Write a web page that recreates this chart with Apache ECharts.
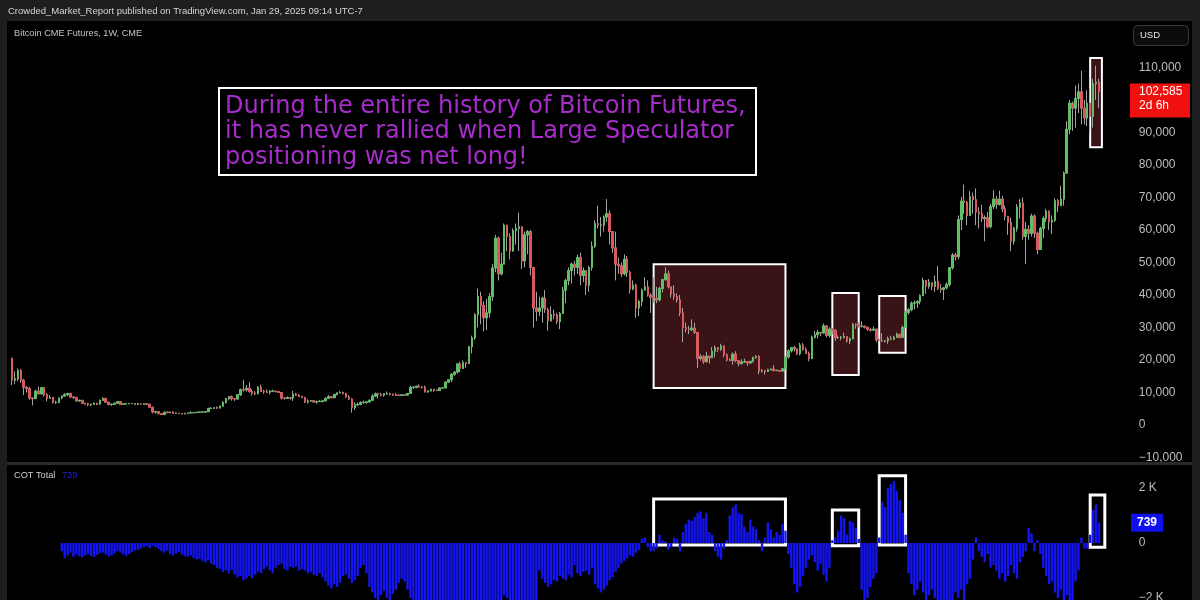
<!DOCTYPE html>
<html>
<head>
<meta charset="utf-8">
<script src="https://cdn.jsdelivr.net/npm/echarts/dist/echarts.min.js"></script>
<style>
html,body{margin:0;padding:0;background:#1e1e1e;}
#c{width:1200px;height:600px;}
</style>
</head>
<body>
<div id="c"></div>
<script>
// ---------- DATA (weekly CME Bitcoin futures, thousands USD) ----------
const firstOpen = 20.5;
const closes = [
 13.8,14.2,
 16.8,13.8,11.6,11.2,8.3,8.1,10.4,9.6,11.5,9.3,8.2,8.4,6.9,7.0,8.3,8.9,9.3,9.7,8.6,8.5,7.4,7.6,6.7,6.5,6.2,6.4,6.7,6.4,7.6,8.2,7.0,6.3,6.4,6.7,7.2,6.3,6.5,6.6,6.6,6.6,6.3,6.5,6.4,6.5,6.4,5.5,4.0,4.1,3.5,3.2,3.9,3.8,
 4.0,3.6,3.6,3.5,3.4,3.6,3.7,3.8,3.8,3.9,4.0,4.0,4.1,5.1,5.1,5.3,5.2,5.8,7.0,8.1,8.7,8.1,8.0,9.3,10.9,10.8,11.3,10.3,9.8,9.6,11.6,10.3,10.2,10.1,10.4,10.4,10.3,10.0,8.3,8.2,8.4,8.3,9.5,9.2,8.8,8.5,7.1,7.4,7.5,7.1,7.2,7.3,
 7.4,8.2,8.7,8.4,9.4,9.9,10.0,9.7,8.6,8.0,5.3,6.2,6.3,6.9,7.0,7.1,7.6,8.9,9.6,9.4,9.2,9.6,9.7,9.5,9.3,9.2,9.1,9.3,9.2,9.7,11.6,11.6,11.9,11.7,11.6,10.2,10.5,11.0,10.7,10.6,11.4,11.4,13.2,13.9,15.6,16.3,18.8,17.4,19.2,18.9,24.1,26.8,
 33.9,39.5,36.8,33.0,34.5,39.5,48.3,57.5,46.5,49.5,61.5,58.0,53.5,59.8,60.5,61.0,50.5,58.5,59.5,48.5,36.0,35.0,36.0,39.0,35.5,32.0,34.0,33.8,31.8,34.3,41.5,44.5,47.5,49.5,48.5,51.5,46.0,47.5,43.0,48.5,55.0,62.0,61.5,61.5,64.0,65.0,59.5,54.5,49.5,49.0,46.5,51.0,
 47.0,41.8,43.0,36.0,38.0,41.5,42.5,40.0,39.3,39.0,38.5,42.0,44.7,46.5,42.5,40.3,39.5,38.5,34.5,30.0,29.5,29.3,29.8,28.5,20.5,21.0,19.5,21.2,20.7,22.7,23.8,23.3,24.3,21.6,20.0,19.9,21.8,19.8,18.9,19.4,19.5,19.1,19.6,20.8,21.1,16.6,16.7,16.5,17.0,17.2,16.8,16.8,
 16.6,17.3,20.9,22.8,23.8,23.4,21.9,24.6,23.2,22.0,20.5,27.0,27.8,28.5,28.3,30.5,27.6,29.5,29.2,26.9,26.9,27.0,27.2,25.9,26.5,31.0,30.8,30.4,30.4,30.1,29.4,29.2,29.5,26.2,26.0,25.9,25.9,26.6,26.4,27.0,27.9,27.0,30.0,34.6,35.5,37.5,37.6,38.0,39.8,44.5,42.7,43.8,42.6,
 44.2,42.0,41.7,42.2,43.2,48.4,52.3,51.8,63.2,68.9,68.5,64.5,70.2,69.3,65.5,65.0,63.5,63.8,61.0,67.2,69.5,67.9,69.5,66.5,64.2,62.3,56.5,60.5,67.0,68.3,58.0,60.2,59.0,64.3,59.0,54.0,60.5,63.6,65.8,62.5,63.0,69.0,67.5,69.5,77.5,91.0,99.0,97.5,100.5,102.5,97.5,94.5,
 99.0,95.0,105.0,105.5,102.6
];
const highs = [
 20.7,16.5,
 17.4,17.2,14.2,12.0,11.8,8.5,10.9,11.8,11.7,11.7,9.9,9.2,8.6,7.5,8.4,9.0,9.8,9.9,9.9,8.9,8.5,7.8,7.7,6.8,6.8,6.5,6.9,6.8,7.8,8.5,8.3,7.2,6.6,6.9,7.3,7.4,6.6,6.8,6.8,6.7,6.7,6.8,6.6,6.6,6.6,6.5,5.5,4.4,4.2,3.6,4.2,4.2,
 4.1,4.2,3.8,3.7,3.5,3.7,3.7,4.2,3.9,4.0,4.0,4.1,4.1,5.3,5.5,5.4,5.7,5.9,7.3,8.4,8.9,9.1,8.2,9.4,11.2,13.9,12.3,13.2,11.0,10.4,12.0,12.4,10.8,10.9,10.7,10.9,10.5,10.4,10.1,8.5,8.8,8.5,10.5,9.9,9.5,9.0,8.5,7.9,7.7,7.5,7.5,7.6,
 7.6,8.5,9.2,8.8,9.6,9.9,10.5,10.3,9.9,9.2,8.2,6.9,6.9,7.3,7.5,7.3,7.8,9.5,10.0,9.9,9.9,9.8,10.3,9.9,9.6,9.8,9.4,9.5,9.4,9.8,12.1,11.9,12.1,12.5,11.9,12.1,10.6,11.1,11.0,10.9,11.5,11.7,13.4,14.0,16.0,16.5,18.9,19.5,19.9,19.4,24.3,27.5,
 34.4,42.0,41.0,38.0,38.8,40.6,49.5,58.5,58.0,53.0,62.0,61.5,59.0,60.5,62.0,65.3,58.0,59.5,60.0,60.0,46.0,41.0,39.5,39.5,41.5,36.0,36.5,35.5,34.5,34.8,42.5,45.0,48.5,50.0,50.5,52.5,53.0,48.5,47.5,49.0,56.5,63.0,67.5,64.0,64.5,69.5,66.0,59.5,59.5,51.5,50.0,52.5,
 52.0,47.5,44.5,43.5,38.5,42.0,45.5,44.5,40.5,45.5,42.5,42.5,45.0,48.5,47.5,42.5,43.0,40.5,40.0,36.0,31.5,30.5,32.5,31.5,27.0,21.8,21.5,22.5,21.0,24.0,24.5,23.6,25.0,24.5,22.0,20.5,22.3,22.7,19.6,20.2,20.4,19.6,19.7,21.0,21.5,21.5,17.2,16.8,17.3,17.4,18.4,17.0,
 16.9,17.4,21.2,23.3,23.9,24.3,23.5,25.3,25.2,23.9,22.6,27.5,28.9,29.2,28.6,31.2,30.6,30.1,29.9,29.3,27.6,27.4,28.4,27.3,26.9,31.4,31.3,31.6,31.9,30.6,30.0,29.9,30.3,29.6,26.9,28.2,26.1,27.2,27.4,27.5,28.5,28.1,30.6,35.3,36.0,38.0,38.3,38.4,40.2,45.3,44.5,44.9,44.0,
 46.0,49.0,43.3,42.3,43.9,48.6,52.9,53.0,64.5,70.2,74.0,68.9,72.0,71.5,72.8,67.0,67.8,64.5,65.5,68.0,72.2,70.5,72.1,70.5,67.5,63.5,63.8,61.0,68.0,69.5,70.0,62.5,61.5,65.0,64.8,59.5,61.0,64.2,66.5,66.0,64.5,69.8,69.5,73.6,78.0,93.5,100.0,99.5,104.5,105.0,109.0,100.0,
 103.0,103.5,106.5,110.5,106.5
];
const lows = [
 12.3,12.5,
 13.5,13.0,9.2,10.0,7.8,6.0,8.0,9.4,9.3,8.7,7.3,8.2,6.6,6.5,6.7,7.9,8.7,8.9,8.4,8.0,7.2,7.1,6.5,6.2,5.8,5.8,6.3,6.1,6.3,7.4,6.9,6.0,5.9,6.2,6.7,6.2,6.2,6.3,6.4,6.5,6.1,6.4,6.4,6.3,6.3,5.3,3.6,3.5,3.3,3.1,3.2,3.6,
 3.7,3.5,3.5,3.5,3.3,3.4,3.5,3.7,3.7,3.7,3.8,3.9,3.9,4.1,4.9,5.0,5.0,5.2,5.7,6.6,7.6,7.5,7.4,7.8,8.9,10.3,10.3,9.9,9.1,9.2,9.6,10.1,9.6,9.9,9.4,10.1,10.0,9.9,7.8,7.8,8.0,7.8,7.4,8.9,8.7,8.4,6.8,6.6,7.1,6.9,6.5,7.1,
 6.9,7.5,8.1,8.2,8.4,9.1,9.7,9.4,8.4,7.7,3.8,4.6,5.8,6.1,6.5,6.5,6.9,7.6,8.6,8.2,8.8,8.7,9.3,9.1,9.0,8.9,8.9,9.1,9.1,9.1,9.8,11.1,11.3,11.5,11.2,10.0,9.9,10.3,10.2,10.4,10.5,11.2,11.4,12.9,13.2,15.1,15.8,16.3,18.1,17.6,19.0,22.0,
 26.2,30.0,31.0,28.8,29.2,33.0,38.2,47.0,44.5,46.0,49.5,53.5,51.0,53.5,55.5,53.5,48.0,48.5,52.5,46.0,30.0,32.0,33.5,31.5,34.5,29.0,32.5,32.5,31.0,29.5,35.0,37.5,43.0,43.5,46.0,46.5,43.0,44.0,40.0,41.0,47.5,54.5,60.5,58.0,59.5,62.5,55.5,53.0,44.5,46.5,45.5,46.0,
 45.5,40.5,41.5,33.0,33.5,36.5,41.5,39.5,34.5,37.5,37.5,38.0,40.8,44.5,42.0,39.2,38.5,37.7,33.5,25.5,28.5,28.0,29.0,28.0,17.5,19.8,18.8,19.2,18.9,20.8,20.8,22.5,22.8,20.8,19.6,19.6,18.6,19.3,18.1,18.6,19.1,18.2,18.9,19.2,20.3,15.6,16.1,15.5,16.3,16.8,16.4,16.5,
 16.3,16.6,17.2,20.4,22.3,22.6,21.5,21.4,22.9,21.8,19.6,20.2,26.6,26.6,27.3,28.1,27.0,26.9,27.9,25.9,26.5,26.1,26.6,25.4,24.9,26.5,29.6,29.9,30.0,29.7,29.0,28.7,29.0,25.5,25.8,25.6,25.4,25.0,26.1,26.1,27.3,26.6,26.9,29.8,34.0,35.0,35.6,36.0,37.1,39.8,40.4,41.9,41.5,
 41.0,41.5,40.7,38.5,41.8,42.6,47.8,50.6,51.0,60.0,65.0,61.5,66.5,65.0,61.5,60.5,62.5,56.5,60.5,60.5,66.5,66.5,67.5,65.5,63.0,58.5,53.5,55.5,59.5,63.5,57.0,49.5,57.0,58.0,57.5,52.5,54.0,57.5,62.5,60.0,58.8,62.5,65.5,67.5,67.5,79.5,89.5,90.5,91.5,96.0,92.5,92.5,
 92.0,90.0,91.5,100.0,97.5
];
// COT Total (contracts), weekly, aligned with candles
const cot = [
 null,null,null,null,null,null,null,null,null,null,null,null,null,null,null,null,null,
 -300,-550,-450,-350,
 -500,-420,-480,-520,-450,-400,-470,-510,-430,-380,
 -350,-420,-500,-460,-380,-300,-350,-420,-480,-400,-330,-280,-250,
 -200,-150,-120,-180,-100,-150,-220,
 -300,-350,-280,-400,-450,-380,-320,-420,-480,-500,-450,-550,-600,-580,
 -650,-700,-620,-750,-800,
 -900,-950,-1050,-1000,-1100,-980,
 -1150,-1250,-1200,-1350,-1300,-1200,-1280,-1150,-1050,-1100,
 -950,-850,-1000,-1100,-900,-800,-750,-950,-1000,-870,
 -900,-850,-1000,-950,
 -1000,-1100,-1050,-1150,-1200,-1100,
 -1250,-1400,-1550,-1650,-1500,-1600,-1450,-1200,
 -1150,-1300,-1450,-1350,-1200,
 -900,-800,-1100,
 -1600,-1800,-2000,-2100,-1900,
 -1750,-2000,-2100,-1850,-1700,
 -1450,-1300,-1400,-1700,-2000,
 -2300,-2500,-2400,-2600,-2800,-2700,-2500,-2300,-2400,-2600,
 -2900,-3000,-2800,-2600,-2500,-2400,-2700,-2800,-2600,-2500,
 -2300,-2200,-2400,-2600,-2700,-2500,-2300,-2200,-2400,-2500,-2300,
 -1900,-2000,
 -2200,-2400,-2600,-2500,-2300,-2200,-2500,-2700,-2400,-2200,
 -1000,
 -1300,-1450,-1600,-1500,-1350,-1400,
 -1200,-1300,-1350,-1150,-1250,-800,
 -1100,-1200,-1050,-1000,-1150,-900,
 -1500,-1650,-1800,-1700,-1550,-1350,
 -1250,-1050,-900,-750,-650,
 -550,-450,-500,-350,
 -250,150,200,-150,-300,
 -300,-200,300,100,50,-250,-150,200,150,-300,
 400,700,850,800,950,1100,1150,900,1100,400,
 300,-300,-500,-600,-200,100,1000,1300,1400,1100,
 1050,600,400,850,600,500,100,-300,200,750,
 500,200,400,300,700,450,
 -400,-900,-1500,-1800,-1600,-1200,-900,-600,-450,-700,-1000,-750,-1150,-1400,-900,
 100,200,450,1000,900,300,800,750,550,150,
 -1700,-2200,-2000,-1600,-1300,-1100,
 200,1500,1300,2000,2150,2250,1900,1550,1100,300,
 -1100,-1500,-1900,-1700,-1400,-1800,-2100,-1900,-1700,-2000,-2200,-2400,-2300,-2100,-2500,-2200,-1800,-2000,-1700,-2100,-1500,
 -1300,-600,200,-300,-500,-700,-400,-900,-800,
 -1000,-1300,-1100,-1400,-1200,-800,
 -1100,-1300,-700,-500,-300,
 550,350,-300,100,
 -400,-900,-1200,-1500,-1400,-1800,-2000,-1700,-2100,-1900,-2300,-2400,
 -1400,-1000,200,-200,
 -200,300,1200,1400,739
];
const lastPrice = 102585;
const countdown = '2d 6h';
const lastCot = 739;
// highlighted ranges: [first week index, last week index, low value, high value]
const priceBoxes = [[219,264,11400,49500],[280,289,15400,40600],[296,305,22200,39700],[368,372,85500,112900]];
const cotBoxes = [[219,264,-70,1600],[280,289,-100,1200],[296,305,-70,2450],[368,373,-150,1750]];

// ---------- categories (weeks) ----------
const totalSlots = 381;
const weeks = [];
const t0 = Date.UTC(2017, 11, 18);
for (let i = 0; i < totalSlots; i++) weeks.push(new Date(t0 + i * 7 * 86400000).toISOString().slice(0, 10));

// ---------- build candles ----------
const ohlc = closes.map((c, i) => {
  const o = i === 0 ? firstOpen : closes[i - 1];
  const h = Math.max(highs[i], o, c), l = Math.min(lows[i], o, c);
  return [o * 1000, c * 1000, l * 1000, h * 1000];
});
const bodies = ohlc.map(d => [d[0], d[1], Math.min(d[0], d[1]), Math.max(d[0], d[1])]);

const GREEN = '#5cc062', RED = '#e0535a', WICK = '#a3a3a3';
const FONT = 'Liberation Sans';

const toArea = (b) => [{ xAxis: weeks[b[0]], yAxis: b[2] }, { xAxis: weeks[b[1]], yAxis: b[3] }];

const chart = echarts.init(document.getElementById('c'), null, { renderer: 'canvas' });
const option = {
  backgroundColor: '#000000',
  animation: false,
  grid: [
    { left: 10.5, right: 73.2, top: 35, height: 422.5, containLabel: false, outerBoundsMode: 'none' },
    { left: 10.5, right: 73.2, top: 466, height: 187, containLabel: false, outerBoundsMode: 'none' }
  ],
  xAxis: [
    { type: 'category', data: weeks, gridIndex: 0, show: false, boundaryGap: true },
    { type: 'category', data: weeks, gridIndex: 1, show: false, boundaryGap: true }
  ],
  yAxis: [
    { type: 'value', gridIndex: 0, position: 'right', min: -10000, max: 120000, interval: 10000,
      axisLine: { show: false }, axisTick: { show: false }, splitLine: { show: false },
      axisLabel: { show: true, showMaxLabel: false, color: '#bdbdbd', fontSize: 12, fontFamily: FONT, margin: 12, align: 'left',
        formatter: v => (v < 0 ? '\u2212' : '') + Math.abs(v).toLocaleString('en-US') } },
    { type: 'value', gridIndex: 1, position: 'right', min: -4000, max: 2800, interval: 2000,
      axisLine: { show: false }, axisTick: { show: false }, splitLine: { show: false },
      axisLabel: { show: true, showMaxLabel: false, color: '#bdbdbd', fontSize: 12, fontFamily: FONT, margin: 12, align: 'left',
        formatter: v => v === 0 ? '0' : (v < 0 ? '\u2212' : '') + Math.abs(v / 1000) + ' K' } }
  ],
  series: [
    { name: 'zones', type: 'line', xAxisIndex: 0, yAxisIndex: 0, data: [], symbol: 'none', z: 1, silent: true,
      markArea: { silent: true, label: { show: false },
        itemStyle: { color: '#3a1317', borderColor: '#ffffff', borderWidth: 2 },
        data: priceBoxes.map(toArea) } },
    { name: 'wicks', type: 'candlestick', xAxisIndex: 0, yAxisIndex: 0, data: ohlc, z: 2, barWidth: 2,
      itemStyle: { color: 'rgba(0,0,0,0)', color0: 'rgba(0,0,0,0)', borderColor: WICK, borderColor0: WICK, borderWidth: 1 } },
    { name: 'bodies', type: 'candlestick', xAxisIndex: 0, yAxisIndex: 0, data: bodies, z: 3, barWidth: 2,
      itemStyle: { color: GREEN, color0: RED, borderColor: GREEN, borderColor0: RED, borderWidth: 0.8 } },
    { name: 'COT Total', type: 'bar', xAxisIndex: 1, yAxisIndex: 1, data: cot, barWidth: 2.4, z: 2,
      itemStyle: { color: '#1414f2' } },
    { name: 'cotzones', type: 'line', xAxisIndex: 1, yAxisIndex: 1, data: [], symbol: 'none', z: 5, silent: true,
      markArea: { silent: true, label: { show: false },
        itemStyle: { color: 'rgba(0,0,0,0)', borderColor: '#ffffff', borderWidth: 3 },
        data: cotBoxes.map(toArea) } }
  ]
};
chart.setOption(option);

const yP = chart.convertToPixel({ yAxisIndex: 0 }, lastPrice);
const yC = chart.convertToPixel({ yAxisIndex: 1 }, lastCot);
const FR = '#1e1e1e';
chart.setOption({
  graphic: [
    { type: 'rect', shape: { x: 0, y: 0, width: 1200, height: 21 }, style: { fill: FR }, z: 50 },
    { type: 'rect', shape: { x: 0, y: 0, width: 7, height: 600 }, style: { fill: FR }, z: 50 },
    { type: 'rect', shape: { x: 1192, y: 0, width: 8, height: 600 }, style: { fill: FR }, z: 50 },
    { type: 'rect', shape: { x: 7, y: 462, width: 1185, height: 3 }, style: { fill: '#2a2a2a' }, z: 50 },
    { type: 'text', x: 8, y: 11, style: { text: 'Crowded_Market_Report published on TradingView.com, Jan 29, 2025 09:14 UTC-7', fill: '#d6d6d6', fontSize: 9.5, fontFamily: FONT, verticalAlign: 'middle' }, z: 51 },
    { type: 'text', x: 14, y: 33, style: { text: 'Bitcoin CME Futures, 1W, CME', fill: '#c4c4c4', fontSize: 9.2, fontFamily: FONT, verticalAlign: 'middle' }, z: 51 },
    { type: 'rect', shape: { x: 1133.5, y: 25.5, width: 55, height: 20, r: 4 }, style: { fill: '#0c0c0c', stroke: '#3a3a3a', lineWidth: 1 }, z: 51 },
    { type: 'text', x: 1140, y: 35.5, style: { text: 'USD', fill: '#e6e6e6', fontSize: 9.5, fontFamily: FONT, verticalAlign: 'middle' }, z: 52 },
    { type: 'text', x: 14, y: 475, style: { text: 'COT Total', fill: '#cfcfcf', fontSize: 9.2, fontFamily: FONT, verticalAlign: 'middle' }, z: 51 },
    { type: 'text', x: 62, y: 475, style: { text: String(lastCot), fill: '#2323c8', fontSize: 9.2, fontFamily: FONT, verticalAlign: 'middle' }, z: 51 },
    // note box
    { type: 'rect', shape: { x: 219, y: 88, width: 537, height: 87 }, style: { fill: '#000', stroke: '#ffffff', lineWidth: 2 }, z: 60 },
    { type: 'text', x: 225, y: 94, style: { text: 'During the entire history of Bitcoin Futures,\nit has never rallied when Large Speculator\npositioning was net long!', fill: '#a82ccb', fontSize: 24, fontFamily: 'DejaVu Sans', lineHeight: 25.5 }, z: 61 },
    // last price tag
    { type: 'rect', shape: { x: 1130, y: yP - 8, width: 60, height: 34 }, style: { fill: '#f01010' }, z: 55 },
    { type: 'text', x: 1139, y: yP, style: { text: lastPrice.toLocaleString('en-US'), fill: '#ffffff', fontSize: 12, fontFamily: FONT, verticalAlign: 'middle' }, z: 56 },
    { type: 'text', x: 1139, y: yP + 14, style: { text: countdown, fill: '#ffffff', fontSize: 12, fontFamily: FONT, verticalAlign: 'middle' }, z: 56 },
    // last cot tag
    { type: 'rect', shape: { x: 1131, y: yC - 9, width: 32, height: 18 }, style: { fill: '#1010ee' }, z: 55 },
    { type: 'text', x: 1147, y: yC, style: { text: String(lastCot), fill: '#ffffff', fontSize: 12, fontWeight: 'bold', fontFamily: FONT, align: 'center', verticalAlign: 'middle' }, z: 56 }
  ]
});
</script>
</body>
</html>
